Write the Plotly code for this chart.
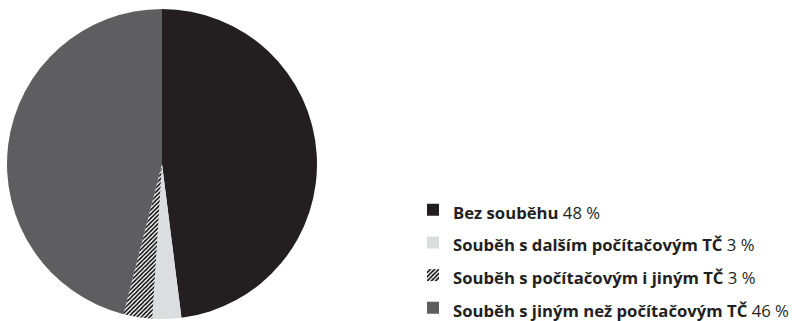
import plotly.graph_objects as go

# Share of cases by type of concurrence
categories = [
    "Bez souběhu",
    "Souběh s dalším počítačovým TČ",
    "Souběh s počítačovým i jiným TČ",
    "Souběh s jiným než počítačovým TČ",
]
values = [48, 3, 3, 46]
colors = ["#231f20", "#dcdddf", "#ffffff", "#5e5e60"]
patterns = ["", "", "/", ""]

W, H = 792, 321
text_size = 16.7

legend_labels = [
    f'<span style="font-size:{text_size}px"><b>{c}</b> {v} %</span>'
    for c, v in zip(categories, values)
]

fig = go.Figure(
    go.Pie(
        labels=legend_labels,
        values=values,
        sort=False,
        direction="clockwise",
        rotation=0,
        textinfo="none",
        hoverinfo="skip",
        marker=dict(
            colors=colors,
            line=dict(width=0),
            pattern=dict(
                shape=patterns,
                fgcolor="#000000",
                bgcolor="#ffffff",
                size=3.0,
                solidity=0.5,
            ),
        ),
        domain=dict(x=[7 / W, 317 / W], y=[2 / H, 312 / H]),
    )
)

fig.update_layout(
    width=W,
    height=H,
    margin=dict(l=0, r=0, t=0, b=0, autoexpand=False),
    paper_bgcolor="#ffffff",
    plot_bgcolor="#ffffff",
    font=dict(family="Open Sans", color="#231f20"),
    showlegend=True,
    legend=dict(
        x=413 / W,
        xanchor="left",
        y=-8.5 / H,
        yanchor="bottom",
        font=dict(size=22.8, family="Open Sans", color="#231f20"),
        bgcolor="rgba(0,0,0,0)",
        traceorder="normal",
    ),
)

fig.write_html("out.html")
